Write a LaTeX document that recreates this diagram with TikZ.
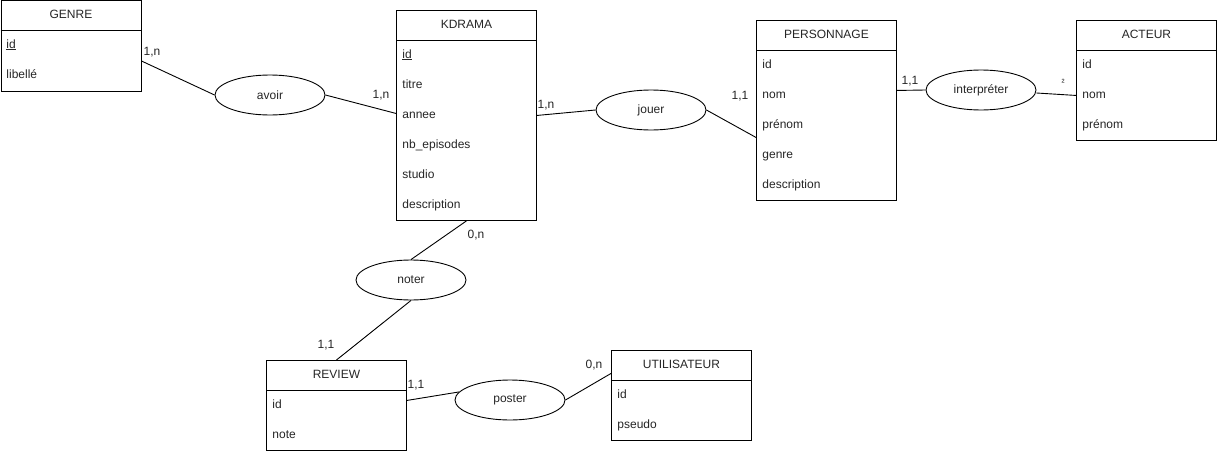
\documentclass[tikz,border=0pt]{standalone}
\usepackage{fontspec}
\setmainfont{Liberation Sans}
\usetikzlibrary{shapes.geometric}
\begin{document}
\begin{tikzpicture}[x=1pt,y=-1pt,
  line width=0.9pt,
  every node/.style={font=\fontsize{12}{14}\selectfont, text=black!85},
  entity/.style={draw, rectangle, minimum width=140pt, minimum height=#1, anchor=north west, inner sep=0},
  relation/.style={draw, ellipse, minimum width=110pt, minimum height=40pt, inner sep=0},
  etitle/.style={anchor=center, inner sep=0, text height=8.6pt, text depth=2.4pt},
  attr/.style={anchor=west, inner sep=0, text height=8.6pt, text depth=2.4pt},
  card/.style={inner sep=0, text height=8.6pt, text depth=2.4pt}
]
\useasboundingbox[fill=white] (0,0) rectangle (1217,452);

% ---------- entities ----------
\node[entity=90pt]  (genre)  at (0.5,0.5) {};
\node[entity=210pt] (kdrama) at (396,10) {};
\node[entity=180pt] (perso)  at (756,20) {};
\node[entity=120pt] (acteur) at (1076,20) {};
\node[entity=90pt]  (review) at (266,360) {};
\node[entity=90pt]  (util)   at (611,350) {};

% header separators
\foreach \e in {genre,kdrama,perso,acteur,review,util}
  \draw ([yshift=-30pt]\e.north west) -- ([yshift=-30pt]\e.north east);

% titles
\node[etitle] (genreT)  at ([yshift=-15pt]genre.north)  {GENRE};
\node[etitle] (kdramaT) at ([yshift=-15pt]kdrama.north) {KDRAMA};
\node[etitle] (persoT)  at ([yshift=-15pt]perso.north)  {PERSONNAGE};
\node[etitle] (acteurT) at ([yshift=-15pt]acteur.north) {ACTEUR};
\node[etitle] (reviewT) at ([yshift=-15pt]review.north) {REVIEW};
\node[etitle] (utilT)   at ([yshift=-15pt]util.north)   {UTILISATEUR};

% attributes
\node[attr] (g1) at (6,45) {\underline{id}};
\node[attr] (g2) at (6,75) {libellé};

\node[attr] (k1) at (402,55)  {\underline{id}};
\node[attr] (k2) at (402,85)  {titre};
\node[attr] (k3) at (402,115) {annee};
\node[attr] (k4) at (402,145) {nb\_episodes};
\node[attr] (k5) at (402,175) {studio};
\node[attr] (k6) at (402,205) {description};

\node[attr] (p1) at (762,65)  {id};
\node[attr] (p2) at (762,95)  {nom};
\node[attr] (p3) at (762,125) {prénom};
\node[attr] (p4) at (762,155) {genre};
\node[attr] (p5) at (762,185) {description};

\node[attr] (a1) at (1082,65)  {id};
\node[attr] (a2) at (1082,95)  {nom};
\node[attr] (a3) at (1082,125) {prénom};

\node[attr] (r1) at (272,405) {id};
\node[attr] (r2) at (272,435) {note};

\node[attr] (u1) at (617,395) {id};
\node[attr] (u2) at (617,425) {pseudo};

% ---------- associations ----------
\node[relation] (avoir)  at (270,95)  {avoir};
\node[relation] (jouer)  at (651,110) {jouer};
\node[relation] (interp) at (981,90)  {interpréter};
\node[relation] (noter)  at (411,280) {noter};
\node[relation] (poster) at (510,400) {poster};

% ---------- links ----------
\draw ([yshift=-15pt]genre.east) -- (avoir.west);
\draw (avoir.east) -- ([yshift=2pt]kdrama.west);
\draw (kdrama.east) -- (jouer.west);
\draw (jouer.east) -- ([yshift=-27pt]perso.west);
\draw ([yshift=20pt]perso.east) -- (interp.west);
\draw ([yshift=-3pt]interp.east) -- ([yshift=-15pt]acteur.west);
\draw (kdrama.south) -- (noter.north);
\draw (noter.south) -- (review.north);
\draw ([yshift=5pt]review.east) -- (poster.171);
\draw (poster.east) -- ([yshift=22pt]util.west);

% ---------- cardinalities ----------
\node[card] (c1) at (152,52)  {1,n};
\node[card] (c2) at (381,95)  {1,n};
\node[card] (c3) at (546,105) {1,n};
\node[card] (c4) at (740,96)  {1,1};
\node[card] (c5) at (910,81)  {1,1};
\node[inner sep=0, font=\fontsize{9}{10}\selectfont] (c6) at (1063,82) {²};
\node[card] (c7) at (476,235) {0,n};
\node[card] (c8) at (326,345) {1,1};
\node[card] (c9) at (416,385) {1,1};
\node[card] (c10) at (594,365) {0,n};
\end{tikzpicture}
\end{document}
